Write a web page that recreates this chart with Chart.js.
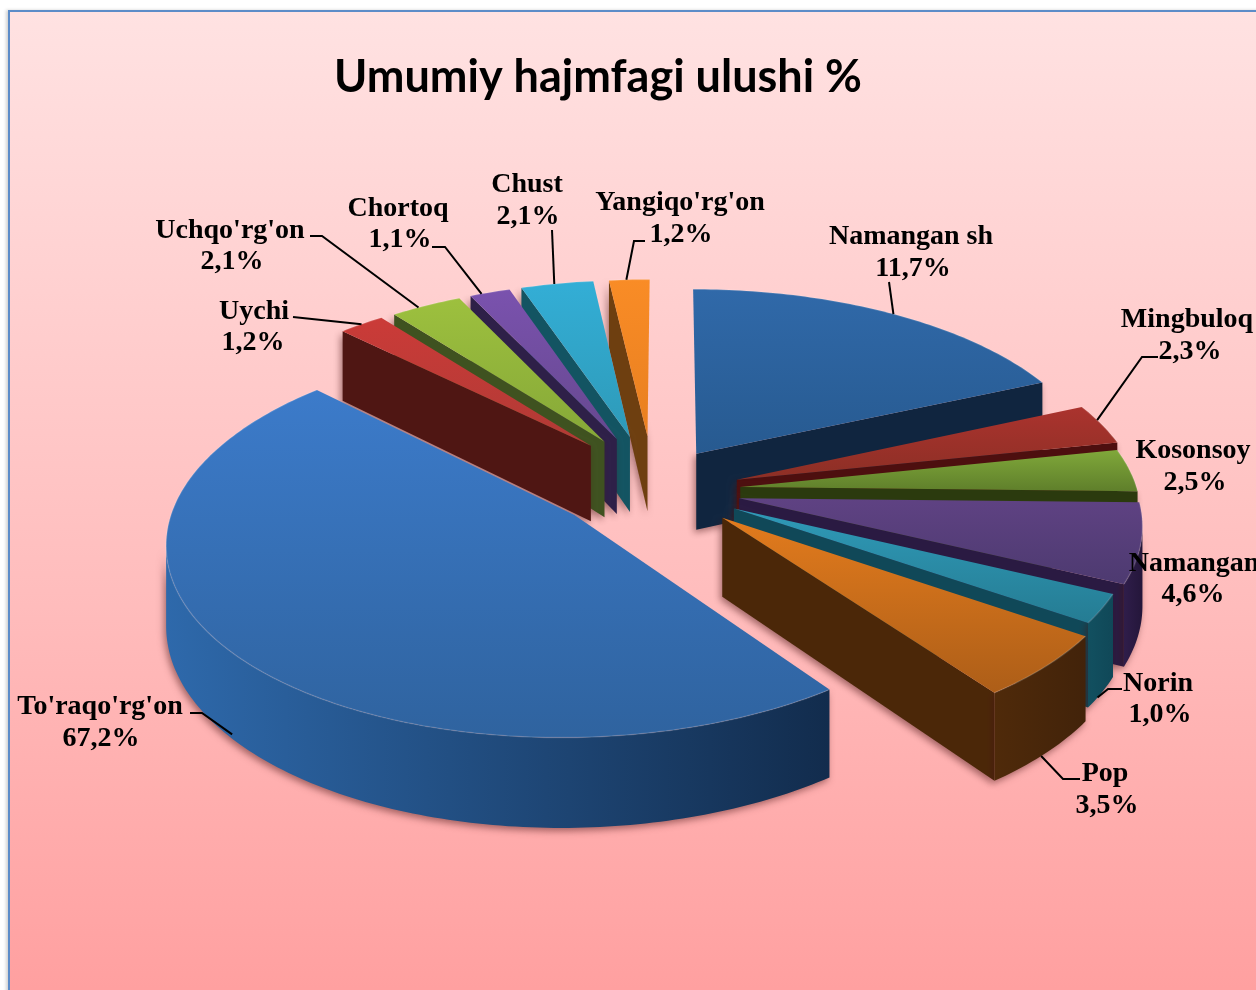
<!DOCTYPE html>
<html>
<head>
<meta charset="utf-8">
<title>Umumiy hajmfagi ulushi %</title>
<script src="https://cdn.jsdelivr.net/npm/chart.js@4"></script>
<style>
    html, body { margin: 0; padding: 0; background: #fff; overflow: hidden; }
    #frame {
        position: absolute; left: 8px; top: 10px; width: 1260px; height: 990px;
        border: 2px solid #5c8cc8; box-shadow: -2px 0 3px rgba(0, 0, 0, .18);
        background: linear-gradient(to bottom, #ffe2e2 0%, #ffd2d2 25%, #ffbcbc 60%, #ff9f9f 100%);
    }
    #pieChart { position: absolute; left: 0; top: 0; }
</style>
</head>
<body>
<div id="frame"></div>
<canvas id="pieChart" width="1256" height="990"></canvas>
<script>
const titleText = "Umumiy hajmfagi ulushi %";
const districts = ["Namangan sh", "Mingbuloq", "Kosonsoy", "Namangan", "Norin", "Pop", "To'raqo'rg'on", "Uychi", "Uchqo'rg'on", "Chortoq", "Chust", "Yangiqo'rg'on"];
// the percentages printed on the picture
const printedShares = [11.7, 2.3, 2.5, 4.6, 1.0, 3.5, 67.2, 1.2, 2.1, 1.1, 2.1, 1.2];
// the slices in the picture are not drawn in proportion to the printed labels,
// so these are the shares read from the slice angles themselves
const sliceShares = [18.4, 3.4, 3.6, 6.7, 2.5, 5.4, 47.5, 2.15, 3.35, 1.9, 3.4, 1.9];
const explodeOffsets = [47, 72, 72, 72, 72, 72, 130, 85, 85, 85, 85, 85];

// styling of the exploded slices, screen px and radius factor
const sliceNudges = [[3, -3], [0, 15], [0, 15], [0, 15], [2, 16], [1, 18], [7, -1], [-22, 0], [-20, 0], [-20, 0], [-20, 0], [-16, 0]];
const sliceRadius = [1.03, 1.015, 1, 1, .98, 1, 1, 1, 1, 1, 1, 1];

const topColors = [
    ['#3069a9', '#275a90'], ['#ab332e', '#8c2f25'], ['#80a83a', '#5f7f2b'], ['#5f4283', '#4d3a70'],
    ['#2f9ab8', '#257c93'], ['#e27b1d', '#ad5e18'], ['#3c7bca', '#2f639f'], ['#cb3b38', '#b03a35'],
    ['#9dc03e', '#86a838'], ['#7a52ae', '#66488f'], ['#33aed6', '#2e9ab8'], ['#f98c26', '#e87f20']
];
const wallColors = ['#10253f', '#4d0f0f', '#2b3a0e', '#2a1a42', '#104858', '#4b2708', '#132f52', '#4f1613', '#3f5220', '#2e2048', '#135462', '#6e3f10'];
const outerWallColors = [
    ['#1a3a60', '#10253f'], ['#5a1414', '#4d0f0f'], ['#34460f', '#2b3a0e'], ['#2f1d4a', '#24163a'],
    ['#125060', '#104858'], ['#4f2a0a', '#42230a'], ['#2e69ab', '#122c4d'], ['#5a1a16', '#4f1613'],
    ['#4a6026', '#3f5220'], ['#332452', '#2e2048'], ['#18606f', '#135462'], ['#7a4612', '#6e3f10']
];

// label places: centre x and baseline of the two text lines
const labelPlaces = [
    [911, 244, 913, 276], [1187, 327, 1190, 359], [1193, 458, 1195, 490], [1194, 571, 1193, 602],
    [1158, 691, 1160, 722], [1105, 781, 1107, 813], [100, 714, 101, 746], [254, 319, 253, 350],
    [230, 238, 232, 269], [398, 216, 400, 247], [527, 192, 528, 224], [680, 210, 681, 242]
];
// leader lines: fixed points near the label, then where on the slice rim it lands (fraction of arc, 0 top .. 1 bottom of wall)
const leaderPaths = [
    { pts: [[889, 282]], frac: .51, drop: 0 },
    { pts: [[1158, 357], [1142, 357]], frac: .42, drop: 0 },
    null,
    null,
    { pts: [[1122, 689], [1108, 689]], frac: .7, drop: 1 },
    { pts: [[1080, 779], [1063, 779]], frac: .56, drop: 1 },
    { pts: [[190, 713], [202, 713]], frac: .5, drop: .95 },
    { pts: [[293, 317]], frac: .45, drop: 0 },
    { pts: [[310, 236], [322, 236]], frac: .42, drop: 0 },
    { pts: [[432, 247], [445, 247]], frac: .3, drop: 0 },
    { pts: [[552, 230]], frac: .43, drop: 0 },
    { pts: [[645, 241], [634, 241]], frac: .4, drop: 0 }
];

// fake camera for the tilted 3D look
const view = { cx: 668, cy: 475, scale: 393, squash: .47, persp: .122, depth: 77 };

function project(gx, gy, h) {
    const w = 1 - view.persp * gy;
    return {
        x: view.cx + view.scale * gx / w,
        y: view.cy + (view.scale * view.squash * gy + view.depth * h) / w
    };
}

function getSliceGeometry(arc, index) {
    const start = arc.startAngle;
    const end = arc.endAngle;
    const mid = (start + end) / 2;
    const e = explodeOffsets[index] / view.scale;
    const r = sliceRadius[index];
    const ox = Math.cos(mid) * e + sliceNudges[index][0] / view.scale;
    const oy = Math.sin(mid) * e + sliceNudges[index][1] / (view.scale * view.squash);
    const rim = [];
    const steps = Math.max(6, Math.round((end - start) * 60));
    for (let i = 0; i <= steps; i++) {
        const a = start + (end - start) * i / steps;
        rim.push([ox + Math.cos(a) * r, oy + Math.sin(a) * r]);
    }
    return { ox, oy, rim, mid, start, end };
}

function tracePoints(ctx, points) {
    ctx.beginPath();
    points.forEach((p, i) => i == 0 ? ctx.moveTo(p.x, p.y) : ctx.lineTo(p.x, p.y));
    ctx.closePath();
}

function drawWall(ctx, a, b, color) {
    tracePoints(ctx, [project(a[0], a[1], 0), project(b[0], b[1], 0), project(b[0], b[1], 1), project(a[0], a[1], 1)]);
    ctx.fillStyle = color;
    ctx.fill();
}

function drawSlice(ctx, arc, index) {
    const geo = getSliceGeometry(arc, index);
    const apex = [geo.ox, geo.oy];
    const first = geo.rim[0];
    const last = geo.rim[geo.rim.length - 1];
    const topRim = geo.rim.map(p => project(p[0], p[1], 0));

    ctx.save();
    ctx.shadowColor = 'rgba(70, 20, 20, .5)';
    ctx.shadowBlur = 7;
    ctx.shadowOffsetX = -2;
    ctx.shadowOffsetY = 3;

    // only walls that face the viewer
    if (-Math.cos(geo.start) > 0.01) drawWall(ctx, apex, first, wallColors[index]);
    if (Math.cos(geo.end) > 0.01) drawWall(ctx, apex, last, wallColors[index]);

    // outer curved wall: the part of the rim that runs right to left on screen
    const front = geo.rim.filter((p, i) => {
        const next = topRim[Math.min(i + 1, topRim.length - 1)];
        const prev = topRim[Math.max(i - 1, 0)];
        return next.x < topRim[i].x || prev.x > topRim[i].x;
    });
    if (front.length > 1) {
        const frontTop = front.map(p => project(p[0], p[1], 0));
        const frontBottom = front.map(p => project(p[0], p[1], 1)).reverse();
        tracePoints(ctx, frontTop.concat(frontBottom));
        const xs = frontTop.map(p => p.x);
        const wallGrad = ctx.createLinearGradient(Math.min(...xs), 0, Math.max(...xs), 0);
        wallGrad.addColorStop(0, outerWallColors[index][0]);
        wallGrad.addColorStop(1, outerWallColors[index][1]);
        ctx.fillStyle = wallGrad;
        ctx.fill();
    }
    ctx.restore();

    // top face
    const top = [project(apex[0], apex[1], 0)].concat(topRim);
    tracePoints(ctx, top);
    const ys = top.map(p => p.y);
    const topGrad = ctx.createLinearGradient(0, Math.min(...ys), 0, Math.max(...ys));
    topGrad.addColorStop(0, topColors[index][0]);
    topGrad.addColorStop(1, topColors[index][1]);
    ctx.fillStyle = topGrad;
    ctx.fill();

    // thin light bevel along the rim
    ctx.save();
    ctx.strokeStyle = 'rgba(255, 255, 255, .14)';
    ctx.lineWidth = 1.5;
    ctx.beginPath();
    topRim.forEach((p, i) => i == 0 ? ctx.moveTo(p.x, p.y) : ctx.lineTo(p.x, p.y));
    ctx.stroke();
    ctx.restore();
}

function drawLabels(ctx, elements) {
    ctx.strokeStyle = '#000';
    ctx.lineWidth = 2;
    leaderPaths.forEach((leader, i) => {
        if (!leader) return;
        const geo = getSliceGeometry(elements[i], i);
        const p = geo.rim[Math.round((geo.rim.length - 1) * leader.frac)];
        const end = project(p[0], p[1], leader.drop);
        ctx.beginPath();
        leader.pts.forEach((pt, n) => n == 0 ? ctx.moveTo(pt[0], pt[1]) : ctx.lineTo(pt[0], pt[1]));
        ctx.lineTo(end.x, end.y);
        ctx.stroke();
    });

    ctx.fillStyle = '#000';
    ctx.font = "bold 28px 'Liberation Serif'";
    ctx.textAlign = 'center';
    ctx.textBaseline = 'alphabetic';
    districts.forEach((name, i) => {
        const place = labelPlaces[i];
        ctx.fillText(name, place[0], place[1]);
        ctx.fillText(printedShares[i].toFixed(1).replace('.', ',') + '%', place[2], place[3]);
    });
}

const tiltedPiePlugin = {
    id: 'tiltedPie',
    beforeDatasetsDraw(chart) {
        const ctx = chart.ctx;
        const elements = chart.getDatasetMeta(0).data;
        const order = elements.map((arc, i) => i);
        // back slices first
        order.sort((a, b) => {
            const ma = (elements[a].startAngle + elements[a].endAngle) / 2;
            const mb = (elements[b].startAngle + elements[b].endAngle) / 2;
            return Math.sin(ma) - Math.sin(mb);
        });
        order.forEach(i => drawSlice(ctx, elements[i], i));
        drawLabels(ctx, elements);
        return false;
    }
};

new Chart(document.getElementById('pieChart').getContext('2d'), {
    type: 'pie',
    data: {
        labels: districts,
        datasets: [{
            data: sliceShares,
            backgroundColor: topColors.map(c => c[0]),
            offset: explodeOffsets,
            borderWidth: 0
        }]
    },
    options: {
        responsive: false,
        animation: false,
        events: [],
        layout: { padding: { right: 60, top: 50 } },
        plugins: {
            legend: { display: false },
            tooltip: { enabled: false },
            title: {
                display: true,
                text: titleText,
                color: '#000',
                font: { family: 'Lato', size: 45, weight: 'bold' },
                padding: { top: 0, bottom: 0 }
            }
        }
    },
    plugins: [tiltedPiePlugin]
});
</script>
</body>
</html>
